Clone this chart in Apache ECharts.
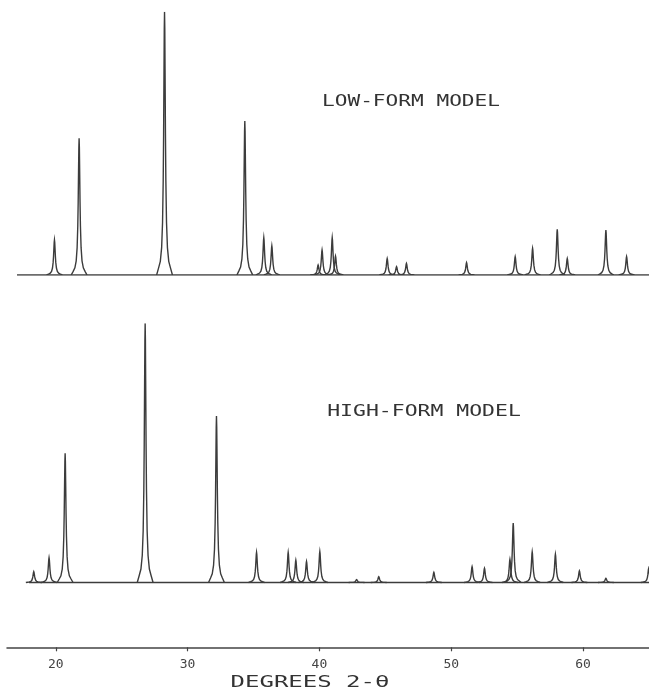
<!DOCTYPE html>
<html>
<head>
<meta charset="utf-8">
<script src="https://cdn.jsdelivr.net/npm/echarts@6/dist/echarts.min.js"></script>
<style>
  html, body { margin: 0; padding: 0; background: #fff; }
  #chart { width: 649px; height: 695px; }
</style>
</head>
<body>
<div id="chart"></div>
<script>
// x axis, degrees 2-theta
var xMin = 16.3;
var xMax = 65;
var tickValues = [20, 30, 40, 50, 60];

// low-form model: peak positions (2-theta) and relative heights (tallest = 100)
var lowPos = [19.90, 21.77, 28.25, 34.34, 35.78, 36.39, 39.90, 40.20, 40.97, 41.22,
              45.14, 45.85, 46.60, 51.16, 54.85, 56.17, 58.04, 58.80, 61.73, 63.30];
var lowInt = [13.3, 51.9, 100, 58.5, 14.2, 11.1, 3.8, 9.5, 14.2, 7.2,
              6.3, 3.2, 4.4, 4.7, 7.0, 10.1, 17.4, 6.3, 17.1, 7.0];
var lowStart = 17.06;

// high-form model
var highPos = [18.33, 19.49, 20.71, 26.78, 32.19, 35.23, 37.63, 38.21, 39.02, 40.03,
               42.82, 44.50, 48.68, 51.58, 52.52, 54.45, 54.70, 56.14, 57.90, 59.72,
               61.73, 64.98];
var highInt = [4.2, 9.6, 49.9, 100, 64.2, 11.6, 11.6, 8.6, 8.1, 12.0,
               1.1, 2.2, 3.9, 6.1, 5.5, 8.9, 22.9, 11.8, 10.9, 4.5,
               1.6, 5.5];
var highStart = 17.97;

var LINE_COLOR = '#3c3c3c';
// peak outline: [offset in degrees, fraction of peak height]
var PEAK_SHAPE = [[-0.6, 0], [-0.45, 0.027], [-0.32, 0.052], [-0.22, 0.104], [-0.15, 0.2],
                  [-0.1, 0.36], [-0.07, 0.534], [-0.04, 0.779], [-0.02, 0.934], [0, 1],
                  [0.02, 0.934], [0.04, 0.779], [0.07, 0.534], [0.1, 0.36], [0.15, 0.2],
                  [0.22, 0.104], [0.32, 0.052], [0.45, 0.027], [0.6, 0]];

function zip(a, b) {
    var out = [];
    for (var i = 0; i < a.length; i++) out.push([a[i], b[i]]);
    return out;
}

function renderPeak(params, api) {
    var pos = api.value(0);
    var h = api.value(1);
    var pts = PEAK_SHAPE.map(function (s) {
        return api.coord([pos + s[0], h * s[1]]);
    });
    return {
        type: 'polyline',
        shape: { points: pts },
        style: { stroke: LINE_COLOR, lineWidth: 1.4, fill: null }
    };
}

function labelText(name, x, y, sx, size) {
    return {
        type: 'text',
        x: x,
        y: y,
        scaleX: sx,
        style: {
            text: name,
            font: size + 'px "DejaVu Sans Mono", monospace',
            fill: '#333',
            textAlign: 'center',
            textVerticalAlign: 'middle',
            align: 'center',
            verticalAlign: 'middle'
        }
    };
}

var chart = echarts.init(document.getElementById('chart'));
var option = {
    animation: false,
    backgroundColor: '#fff',
    grid: [
        { left: 7, right: 0, top: 11.7, height: 263.3 },
        { left: 7, right: 0, top: 323.3, height: 324 }
    ],
    xAxis: [
        { gridIndex: 0, type: 'value', min: xMin, max: xMax, show: false },
        {
            gridIndex: 1, type: 'value', min: xMin, max: xMax,
            position: 'bottom',
            axisLine: { onZero: false, lineStyle: { color: '#444', width: 1.5 } },
            axisTick: { customValues: tickValues, length: 4, lineStyle: { color: '#444', width: 1.2 } },
            axisLabel: {
                customValues: tickValues, margin: 11, color: '#444',
                fontFamily: 'DejaVu Sans Mono', fontSize: 13
            },
            splitLine: { show: false }
        }
    ],
    yAxis: [
        { gridIndex: 0, type: 'value', min: 0, max: 100, show: false },
        { gridIndex: 1, type: 'value', min: -25, max: 100, show: false }
    ],
    series: [
        {
            type: 'line', xAxisIndex: 0, yAxisIndex: 0, symbol: 'none',
            lineStyle: { color: LINE_COLOR, width: 1.4 },
            data: [[lowStart, 0], [xMax, 0]]
        },
        {
            type: 'custom', xAxisIndex: 0, yAxisIndex: 0, clip: true,
            renderItem: renderPeak,
            data: zip(lowPos, lowInt)
        },
        {
            type: 'line', xAxisIndex: 1, yAxisIndex: 1, symbol: 'none',
            lineStyle: { color: LINE_COLOR, width: 1.4 },
            data: [[highStart, 0], [xMax, 0]]
        },
        {
            type: 'custom', xAxisIndex: 1, yAxisIndex: 1, clip: true,
            renderItem: renderPeak,
            data: zip(highPos, highInt)
        }
    ],
    graphic: [
        labelText('LOW-FORM MODEL', 411, 102, 1.32, 16),
        labelText('HIGH-FORM MODEL', 424, 412, 1.34, 16),
        labelText('DEGREES 2-θ', 310, 683, 1.5, 16)
    ]
};
chart.setOption(option);
window.addEventListener('resize', function () {
    chart.resize();
});
</script>
</body>
</html>
